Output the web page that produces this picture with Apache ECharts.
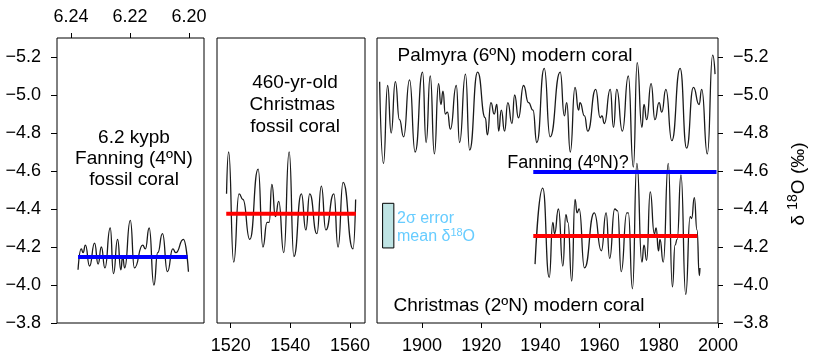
<!DOCTYPE html>
<html><head><meta charset="utf-8">
<script src="https://cdn.jsdelivr.net/npm/echarts@6/dist/echarts.min.js"></script>
<style>html,body{margin:0;padding:0;background:#fff}#c{width:813px;height:362px}</style>
</head><body><div id="c"></div>
<script>
// ---- tick labels ----
const yTicks = [-5.2, -5.0, -4.8, -4.6, -4.4, -4.2, -4.0, -3.8];
const fanFossilTicks = [6.24, 6.22, 6.20];
const xmasFossilTicks = [1520, 1540, 1560];
const modernTicks = [1900, 1920, 1940, 1960, 1980, 2000];

// ---- 6.2 kypb Fanning fossil coral ----
const fanFossilAge = [6.2376,6.2365,6.2359,6.2351,6.2337,6.2320,6.2308,6.2297,6.2285,6.2267,
  6.2256,6.2242,6.2231,6.2225,6.2218,6.2199,6.2185,6.2157,6.2148,6.2135,
  6.2119,6.2106,6.2090,6.2073,6.2055,6.2045,6.2019,6.2002];
const fanFossilD18O = [-4.08,-4.19,-4.17,-4.21,-4.10,-4.22,-4.11,-4.20,-4.09,-4.30,
  -4.06,-4.24,-4.08,-4.15,-4.09,-4.34,-4.09,-4.21,-4.19,-4.30,
  -4.00,-4.17,-4.27,-4.07,-4.19,-4.17,-4.24,-4.07];
const fanFossilMeanSpan = [6.2376, 6.2005];
const fanFossilMean = -4.147;

// ---- 460-yr-old Christmas fossil coral ----
const xmasFossilYear = [1518.6,1519.3,1521.0,1522.8,1524.1,1526.4,1529.2,1530.8,1532.2,1532.9,
  1533.8,1535.0,1536.1,1537.8,1539.6,1541.2,1543.7,1545.2,1546.5,1548.9,
  1550.4,1551.9,1554.6,1556.0,1557.7,1561.0,1561.9];
const xmasFossilD18O = [-4.48,-4.70,-4.12,-4.48,-4.45,-4.24,-4.61,-4.20,-4.33,-4.33,
  -4.53,-4.36,-4.44,-4.17,-4.70,-4.15,-4.48,-4.29,-4.48,-4.27,
  -4.52,-4.29,-4.48,-4.20,-4.54,-4.19,-4.45];
const xmasFossilMeanSpan = [1518.5, 1562.0];
const xmasFossilMean = -4.375;

// ---- Palmyra (6N) modern coral ----
const palmyraYear = [1885.7,1887.0,1888.4,1889.6,1891.0,1892.4,1893.8,1895.8,1897.7,1900.2,
  1901.4,1902.8,1904.2,1905.6,1906.4,1907.1,1907.9,1908.6,1909.6,1911.6,
  1912.7,1914.7,1916.1,1918.8,1921.4,1922.1,1923.3,1924.4,1925.3,1925.9,
  1926.8,1927.9,1929.0,1930.4,1931.3,1932.6,1934.3,1936.0,1937.5,1938.8,
  1941.3,1943.3,1946.7,1948.1,1948.9,1950.1,1951.7,1952.9,1953.4,1954.9,
  1956.0,1958.7,1960.2,1960.8,1961.6,1963.6,1964.7,1965.8,1967.7,1969.7,
  1971.4,1972.7,1974.3,1975.0,1975.9,1977.4,1978.7,1980.1,1981.0,1982.4,
  1984.4,1987.2,1989.4,1991.7,1993.6,1994.5,1996.4,1998.2,1999.0];
const palmyraD18O = [-5.07,-4.64,-5.05,-4.80,-5.07,-4.87,-4.78,-5.08,-4.70,-5.12,
  -4.75,-5.10,-4.69,-5.06,-4.95,-5.02,-4.90,-4.91,-4.82,-5.05,
  -4.75,-5.11,-4.71,-5.12,-4.88,-4.79,-4.96,-4.90,-4.95,-4.81,
  -4.92,-4.81,-4.96,-4.85,-5.00,-4.88,-5.05,-4.96,-4.92,-4.75,
  -5.14,-4.78,-5.12,-4.89,-4.96,-4.70,-5.04,-4.92,-4.96,-4.89,
  -4.81,-5.03,-4.88,-4.89,-4.85,-5.03,-4.83,-5.03,-4.81,-5.10,
  -4.62,-5.17,-4.83,-4.95,-4.87,-5.06,-4.87,-4.96,-4.91,-5.03,
  -4.76,-5.14,-4.72,-5.04,-4.95,-5.03,-4.69,-5.21,-5.11];

// ---- Christmas (2N) modern coral ----
const xmasModernYear = [1938.2,1940.8,1943.0,1944.2,1944.8,1946.1,1947.6,1948.6,1949.3,1950.6,
  1951.7,1952.4,1953.1,1954.9,1958.2,1960.6,1962.2,1963.4,1965.1,1966.1,
  1967.3,1969.2,1969.7,1971.1,1972.6,1974.3,1975.0,1975.9,1977.1,1978.5,
  1979.1,1979.9,1980.4,1981.5,1983.2,1984.6,1985.5,1986.2,1987.5,1989.1,
  1990.6,1991.1,1992.0,1992.9,1993.7,1993.9];
const xmasModernD18O = [-4.11,-4.51,-4.04,-4.33,-4.27,-4.40,-4.10,-4.37,-4.33,-4.02,
  -4.45,-4.38,-4.40,-4.09,-4.38,-4.18,-4.38,-4.14,-4.40,-4.39,
  -4.07,-4.38,-4.38,-3.98,-4.64,-4.12,-4.21,-4.13,-4.49,-4.27,
  -4.30,-4.18,-4.24,-4.12,-4.64,-3.99,-4.21,-4.24,-4.58,-3.95,
  -4.36,-4.35,-4.46,-4.29,-4.05,-4.09];

// mean lines on the modern panel
const fanModernSpan = [1937.6, 1999.5];
const fanModernMean = -4.595;
const xmasModernSpan = [1937.6, 1993.0];
const xmasModernMean = -4.258;

// 2-sigma error box (x span, y span)
const errBoxX = [1886.7, 1890.5];
const errBoxY = [-4.43, -4.195];

const FONT = 'Liberation Sans, Arial, sans-serif';
const zip = (a, b) => a.map((v, i) => [v, b[i]]);
const fmtY = v => (v < 0 ? '\u2212' : '') + Math.abs(v).toFixed(1);

const chart = echarts.init(document.getElementById('c'));
const gridBase = { show: true, borderColor: '#000', borderWidth: 1, backgroundColor: 'transparent', containLabel: false };
const yRange = { min: -5.3, max: -3.8, inverse: true, type: 'value' };
const labelStyle = { color: '#000', fontSize: 18, fontFamily: FONT };

function line(data, xi, color, width, z, smooth) {
  return { type: 'line', xAxisIndex: xi, yAxisIndex: xi, data, smooth: smooth ? 0.55 : false,
    smoothMonotone: 'x', symbol: 'none', lineStyle: { color, width }, z, silent: true, animation: false };
}

chart.setOption({
  animation: false,
  grid: [
    Object.assign({ left: 57, top: 38, width: 147, height: 285 }, gridBase),
    Object.assign({ left: 217, top: 38, width: 148, height: 285 }, gridBase),
    Object.assign({ left: 377, top: 38, width: 341, height: 285 }, gridBase)
  ],
  xAxis: [
    { gridIndex: 0, type: 'value', position: 'top', inverse: true, min: 6.19493, max: 6.24473,
      axisLine: { show: false }, splitLine: { show: false },
      axisTick: { show: true, length: 5, lineStyle: { color: '#000' }, customValues: fanFossilTicks },
      axisLabel: Object.assign({ margin: 12, customValues: fanFossilTicks, formatter: v => v.toFixed(2) }, labelStyle) },
    { gridIndex: 1, type: 'value', position: 'bottom', min: 1515.4, max: 1565.04,
      axisLine: { show: false }, splitLine: { show: false },
      axisTick: { show: true, length: 5, lineStyle: { color: '#000' }, customValues: xmasFossilTicks },
      axisLabel: Object.assign({ margin: 14, customValues: xmasFossilTicks, formatter: v => String(v) }, labelStyle) },
    { gridIndex: 2, type: 'value', position: 'bottom', min: 1884.81, max: 2000,
      axisLine: { show: false }, splitLine: { show: false },
      axisTick: { show: true, length: 5, lineStyle: { color: '#000' }, customValues: modernTicks },
      axisLabel: Object.assign({ margin: 14, customValues: modernTicks, formatter: v => String(v) }, labelStyle) }
  ],
  yAxis: [
    Object.assign({ gridIndex: 0, position: 'left',
      axisLine: { show: false }, splitLine: { show: false },
      axisTick: { show: true, length: 6, lineStyle: { color: '#000' }, customValues: yTicks },
      axisLabel: Object.assign({ margin: 16, customValues: yTicks, formatter: fmtY }, labelStyle) }, yRange),
    Object.assign({ gridIndex: 1, show: false, splitLine: { show: false } }, yRange),
    Object.assign({ gridIndex: 2, position: 'right',
      axisLine: { show: false }, splitLine: { show: false },
      axisTick: { show: true, length: 5, lineStyle: { color: '#000' }, customValues: yTicks },
      axisLabel: Object.assign({ margin: 15, customValues: yTicks, formatter: fmtY }, labelStyle) }, yRange)
  ],
  series: [
    line(zip(fanFossilAge, fanFossilD18O), 0, '#1a1a1a', 1.3, 2, true),
    line(fanFossilMeanSpan.map(x => [x, fanFossilMean]), 0, '#0000ff', 4, 3, false),
    line(zip(xmasFossilYear, xmasFossilD18O), 1, '#1a1a1a', 1.3, 2, true),
    line(xmasFossilMeanSpan.map(x => [x, xmasFossilMean]), 1, '#ff0000', 4, 3, false),
    Object.assign(line(zip(palmyraYear, palmyraD18O), 2, '#1a1a1a', 1.3, 2, true), {
      markArea: { silent: true, itemStyle: { color: '#bfe4e4', borderColor: '#000', borderWidth: 1 },
        data: [[{ coord: [errBoxX[0], errBoxY[0]] }, { coord: [errBoxX[1], errBoxY[1]] }]] }
    }),
    line(zip(xmasModernYear, xmasModernD18O), 2, '#1a1a1a', 1.3, 2, true),
    line(fanModernSpan.map(x => [x, fanModernMean]), 2, '#0000ff', 4, 3, false),
    line(xmasModernSpan.map(x => [x, xmasModernMean]), 2, '#ff0000', 4, 3, false)
  ],
  graphic: [
    { type: 'text', x: 134, y: 159, style: { text: '6.2 kypb\nFanning (4ºN)\nfossil coral', fill: '#000',
        font: '19px ' + FONT, align: 'center', verticalAlign: 'middle', lineHeight: 21 } },
    { type: 'text', x: 295, y: 105, style: { text: '460-yr-old\nChristmas \nfossil coral', fill: '#000',
        font: '19px ' + FONT, align: 'center', verticalAlign: 'middle', lineHeight: 22 } },
    { type: 'text', x: 515, y: 56, style: { text: 'Palmyra (6ºN) modern coral', fill: '#000',
        font: '19px ' + FONT, align: 'center', verticalAlign: 'middle' } },
    { type: 'text', x: 568, y: 163, style: { text: 'Fanning (4ºN)?', fill: '#000',
        font: '18px ' + FONT, align: 'center', verticalAlign: 'middle' } },
    { type: 'text', x: 519, y: 306, style: { text: 'Christmas (2ºN) modern coral', fill: '#000',
        font: '19px ' + FONT, align: 'center', verticalAlign: 'middle' } },
    { type: 'text', x: 397, y: 219, style: { text: '2σ error', fill: '#66ccff',
        font: '16px ' + FONT, align: 'left', verticalAlign: 'middle' } },
    { type: 'text', x: 397, y: 236, style: {
        text: '{a|mean δ}{s|18}{a|O}', align: 'left', verticalAlign: 'middle',
        rich: { a: { fill: '#66ccff', fontSize: 16, fontFamily: FONT, lineHeight: 18, verticalAlign: 'bottom' },
                s: { fill: '#66ccff', fontSize: 11, fontFamily: FONT, lineHeight: 18, verticalAlign: 'top' } } } },
    { type: 'text', x: 797, y: 184, rotation: Math.PI / 2, style: {
        text: '{a|δ }{s|18}{a|O (‰)}', align: 'center', verticalAlign: 'middle',
        rich: { a: { fill: '#000', fontSize: 19, fontFamily: FONT, lineHeight: 22, verticalAlign: 'bottom' },
                s: { fill: '#000', fontSize: 14, fontFamily: FONT, lineHeight: 22, verticalAlign: 'top' } } } }
  ]
});
</script></body></html>
